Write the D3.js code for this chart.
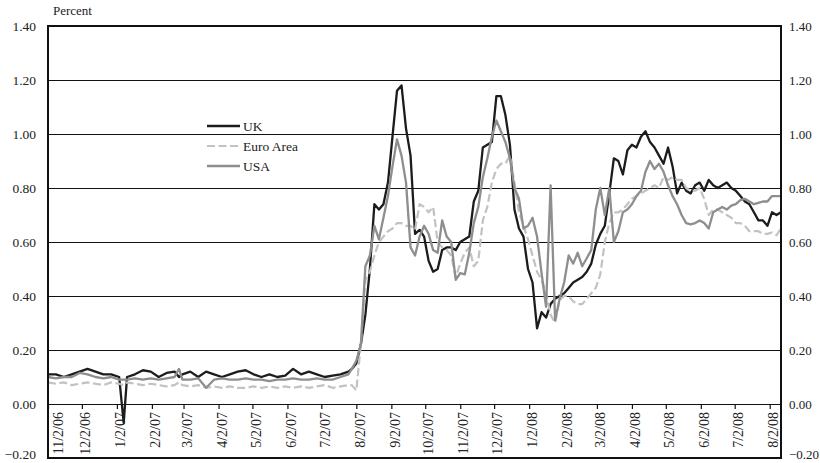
<!DOCTYPE html>
<html><head><meta charset="utf-8">
<script src="https://cdn.jsdelivr.net/npm/d3@7"></script>
<style>
html,body{margin:0;padding:0;background:#fff;}
svg text{font-family:"Liberation Serif","DejaVu Serif",serif;fill:#222;}
</style></head>
<body><svg id="c" width="820" height="463"></svg>
<script>
// ---------- DATA ----------
const dates = [
"2006-11-02","2006-11-09","2006-11-16","2006-11-23","2006-11-30","2006-12-07","2006-12-14","2006-12-21","2006-12-28","2007-01-04",
"2007-01-08","2007-01-11","2007-01-18","2007-01-25","2007-02-01","2007-02-08","2007-02-15","2007-02-22","2007-02-26","2007-03-01",
"2007-03-08","2007-03-15","2007-03-22","2007-03-29","2007-04-05","2007-04-12","2007-04-19","2007-04-26","2007-05-03","2007-05-10",
"2007-05-17","2007-05-24","2007-05-31","2007-06-07","2007-06-14","2007-06-21","2007-06-28","2007-07-05","2007-07-12","2007-07-19",
"2007-07-26",
"2007-07-29","2007-08-02","2007-08-06","2007-08-10","2007-08-14","2007-08-18","2007-08-22","2007-08-26","2007-08-30","2007-09-03",
"2007-09-07","2007-09-11","2007-09-15","2007-09-19","2007-09-23","2007-09-27","2007-10-01","2007-10-05","2007-10-09","2007-10-13",
"2007-10-17","2007-10-21","2007-10-25","2007-10-29","2007-11-02","2007-11-06","2007-11-10","2007-11-14","2007-11-18","2007-11-22",
"2007-11-26","2007-11-30","2007-12-04","2007-12-08","2007-12-12","2007-12-16","2007-12-20","2007-12-24","2007-12-28","2008-01-01",
"2008-01-05","2008-01-09","2008-01-13","2008-01-17","2008-01-21","2008-01-25","2008-01-29","2008-02-02","2008-02-06","2008-02-10",
"2008-02-14","2008-02-18","2008-02-22","2008-02-26","2008-03-01","2008-03-05","2008-03-09","2008-03-13","2008-03-17","2008-03-21",
"2008-03-25","2008-03-29","2008-04-02","2008-04-06","2008-04-10","2008-04-14","2008-04-18","2008-04-22","2008-04-26","2008-04-30",
"2008-05-04","2008-05-08","2008-05-12","2008-05-16","2008-05-20","2008-05-24","2008-05-28","2008-06-01","2008-06-05","2008-06-09",
"2008-06-13","2008-06-17","2008-06-21","2008-06-25","2008-06-29","2008-07-03","2008-07-07","2008-07-11","2008-07-15","2008-07-19",
"2008-07-23","2008-07-27","2008-07-31","2008-08-04","2008-08-08","2008-08-12"
];
const uk = [
0.11,0.11,0.10,0.11,0.12,0.13,0.12,0.11,0.11,0.10,
-0.07,0.10,0.11,0.125,0.12,0.10,0.115,0.12,0.10,0.11,
0.12,0.10,0.12,0.11,0.10,0.11,0.12,0.125,0.11,0.10,
0.11,0.10,0.105,0.13,0.11,0.12,0.11,0.10,0.105,0.11,
0.12,
0.13,0.15,0.22,0.33,0.50,0.74,0.72,0.74,0.82,0.99,
1.16,1.18,1.02,0.92,0.63,0.645,0.62,0.53,0.49,0.50,
0.57,0.58,0.58,0.57,0.60,0.61,0.62,0.75,0.79,0.95,
0.96,0.97,1.14,1.14,1.07,0.96,0.72,0.65,0.62,0.50,
0.45,0.28,0.34,0.32,0.37,0.39,0.40,0.41,0.43,0.45,
0.46,0.47,0.49,0.52,0.59,0.63,0.66,0.78,0.91,0.90,
0.85,0.94,0.96,0.95,0.99,1.01,0.97,0.95,0.92,0.89,
0.95,0.88,0.78,0.82,0.79,0.78,0.81,0.82,0.79,0.83,
0.81,0.80,0.81,0.82,0.80,0.79,0.77,0.75,0.74,0.71,
0.68,0.68,0.66,0.71,0.70,0.71
];
const euroArea = [
0.08,0.075,0.08,0.07,0.075,0.08,0.075,0.07,0.08,0.075,
0.07,0.08,0.075,0.07,0.075,0.07,0.065,0.07,0.08,0.07,
0.065,0.07,0.06,0.065,0.06,0.065,0.06,0.06,0.065,0.06,
0.065,0.06,0.065,0.06,0.065,0.06,0.065,0.07,0.06,0.065,
0.07,
0.07,0.05,0.22,0.46,0.49,0.55,0.60,0.62,0.64,0.65,
0.67,0.67,0.66,0.66,0.645,0.74,0.73,0.71,0.73,0.60,
0.58,0.57,0.55,0.47,0.52,0.56,0.58,0.51,0.53,0.68,
0.73,0.82,0.87,0.89,0.89,0.92,0.82,0.71,0.66,0.61,
0.55,0.49,0.46,0.41,0.33,0.30,0.385,0.40,0.40,0.38,
0.37,0.37,0.39,0.41,0.43,0.48,0.60,0.67,0.71,0.71,
0.72,0.74,0.76,0.77,0.78,0.79,0.80,0.81,0.80,0.84,
0.83,0.84,0.83,0.83,0.80,0.79,0.79,0.80,0.76,0.70,
0.72,0.72,0.71,0.70,0.69,0.67,0.67,0.66,0.64,0.64,
0.64,0.63,0.63,0.635,0.625,0.65
];
const usa = [
0.10,0.095,0.10,0.10,0.115,0.11,0.10,0.095,0.10,0.09,
0.09,0.09,0.095,0.09,0.095,0.09,0.095,0.10,0.13,0.09,
0.09,0.095,0.06,0.09,0.095,0.09,0.09,0.095,0.09,0.09,
0.085,0.09,0.09,0.095,0.09,0.09,0.095,0.09,0.09,0.10,
0.11,
0.13,0.16,0.22,0.51,0.55,0.66,0.61,0.69,0.77,0.88,
0.98,0.92,0.82,0.58,0.55,0.62,0.66,0.63,0.57,0.56,
0.68,0.62,0.60,0.46,0.485,0.48,0.56,0.67,0.73,0.84,
0.91,0.99,1.05,1.01,0.97,0.91,0.80,0.76,0.65,0.66,
0.69,0.62,0.485,0.36,0.81,0.31,0.39,0.45,0.55,0.52,
0.56,0.51,0.54,0.57,0.72,0.80,0.70,0.80,0.60,0.64,
0.71,0.72,0.74,0.77,0.79,0.86,0.90,0.87,0.89,0.86,
0.81,0.77,0.74,0.70,0.67,0.665,0.67,0.68,0.67,0.65,
0.71,0.72,0.73,0.72,0.735,0.74,0.755,0.76,0.75,0.74,
0.745,0.75,0.75,0.77,0.77,0.77
];
const seriesNames = ["UK", "Euro Area", "USA"];
const tickDates = ["2006-11-02","2006-12-02","2007-01-02","2007-02-02","2007-03-02","2007-04-02","2007-05-02","2007-06-02",
"2007-07-02","2007-08-02","2007-09-02","2007-10-02","2007-11-02","2007-12-02","2008-01-02","2008-02-02","2008-03-02",
"2008-04-02","2008-05-02","2008-06-02","2008-07-02","2008-08-02"];
const yTicks = [-0.20,0.00,0.20,0.40,0.60,0.80,1.00,1.20,1.40];
const xDomain = ["2006-11-02","2008-08-12"];
const yLabel = "Percent";

// ---------- CHART ----------
const parse = d3.timeParse("%Y-%m-%d");
const fmt = d3.timeFormat("%-m/%-d/%y");
const L = 48, R = 781, T = 26, B = 458;
const svg = d3.select("#c");
const x = d3.scaleTime().domain(xDomain.map(parse)).range([L, R]);
const y = d3.scaleLinear().domain([-0.2, 1.4]).range([B, T]);

// gridlines
svg.append("g").selectAll("line").data(yTicks.filter(v => v > -0.2 && v < 1.4)).join("line")
  .attr("x1", L).attr("x2", R).attr("y1", d => y(d)).attr("y2", d => y(d))
  .attr("stroke", "#111").attr("stroke-width", 1).attr("shape-rendering", "crispEdges");

// y labels left & right
const yf = d3.format(".2f");
const yDy = d => (d <= -0.2 ? "0.05em" : "0.35em");
svg.append("g").selectAll("text").data(yTicks).join("text")
  .attr("x", 36).attr("y", d => y(d)).attr("dy", yDy).attr("text-anchor", "end")
  .style("font-size", "13.5px").text(d => yf(d));
svg.append("g").selectAll("text").data(yTicks).join("text")
  .attr("x", 789).attr("y", d => y(d)).attr("dy", yDy).attr("text-anchor", "start")
  .style("font-size", "13px").text(d => yf(d));

// x axis at zero
const xAxis = d3.axisBottom(x).tickValues(tickDates.map(parse)).tickFormat(fmt).tickSize(5).tickPadding(0);
const gx = svg.append("g").attr("transform", `translate(0,${y(0)})`).call(xAxis);
gx.select(".domain").remove();
gx.selectAll(".tick line").attr("stroke", "#111").attr("stroke-width", 1.2);
gx.selectAll(".tick text")
  .attr("transform", "rotate(-90)")
  .attr("x", -8).attr("y", 0).attr("dy", (d, i) => i === 0 ? "1.0em" : "0.55em")
  .attr("text-anchor", "end")
  .style("font-size", "14px").style("font-family", "'Liberation Serif',serif").attr("fill", "#222");

// lines
const pts = arr => arr.map((v, i) => ({ d: parse(dates[i]), v }));
const line = d3.line().x(p => x(p.d)).y(p => y(p.v));
const styles = [
  { data: uk, color: "#1c1c1c", w: 2.3, dash: null },
  { data: euroArea, color: "#c2c2c2", w: 2.2, dash: "8,3.5" },
  { data: usa, color: "#8e8e8e", w: 2.3, dash: null }
];
const gl = svg.append("g");
styles.forEach(s => {
  gl.append("path").datum(pts(s.data)).attr("d", line)
    .attr("fill", "none").attr("stroke", s.color).attr("stroke-width", s.w)
    .attr("stroke-linejoin", "round")
    .attr("stroke-dasharray", s.dash);
});

// frame
svg.append("rect").attr("x", L).attr("y", T).attr("width", R - L).attr("height", B - T)
  .attr("fill", "none").attr("stroke", "#111").attr("stroke-width", 2);

// y label
svg.append("text").attr("x", 53).attr("y", 15).style("font-size", "13px").text(yLabel);

// legend
const lg = svg.append("g");
const legY = [126, 146, 166];
styles.forEach((s, i) => {
  lg.append("line").attr("x1", 207).attr("x2", 240).attr("y1", legY[i]).attr("y2", legY[i])
    .attr("stroke", s.color).attr("stroke-width", s.w).attr("stroke-dasharray", s.dash);
  lg.append("text").attr("x", 243).attr("y", legY[i]).attr("dy", "0.35em")
    .style("font-size", "13.5px").text(seriesNames[i]);
});
</script></body></html>
